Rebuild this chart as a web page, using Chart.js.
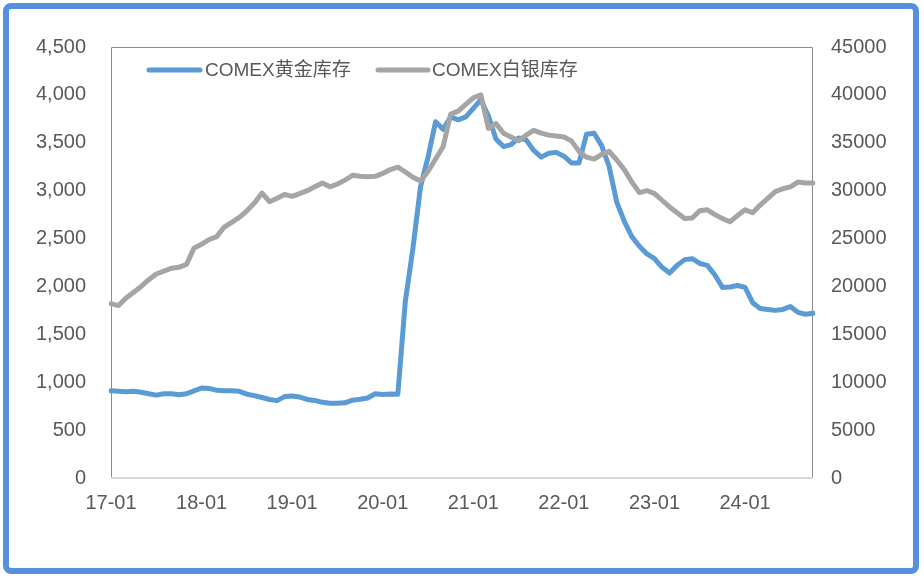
<!DOCTYPE html>
<html>
<head>
<meta charset="utf-8">
<script src="https://cdn.jsdelivr.net/npm/chart.js@4.4.1/dist/chart.umd.min.js"></script>
<style>
    html, body { margin: 0; padding: 0; background: #fff; }
    #wrap { position: relative; width: 924px; height: 583px; }
    #frame {
        position: absolute; left: 3px; top: 3px; width: 916px; height: 571px;
        box-sizing: border-box; border: 6px solid #5590da; border-radius: 8px;
        pointer-events: none;
    }
</style>
</head>
<body>
<div id="wrap">
    <canvas id="stockChart" width="924" height="583"></canvas>
    <div id="frame"></div>
</div>
<script>
// month labels 17-01 .. 24-10
const months = [];
for (let y = 17; y <= 24; y++) {
    for (let m = 1; m <= 12; m++) {
        if (y === 24 && m > 10) break;
        months.push(y + '-' + String(m).padStart(2, '0'));
    }
}

// COMEX gold stock (left axis)
const goldStock = [
    910, 905, 900, 905, 895, 880, 865, 880, 880, 870, 880, 910,
    940, 935, 915, 912, 912, 905, 875, 860, 840, 820, 808, 850,
    856, 845, 820, 810, 790, 780, 780, 785, 812, 822, 835, 880,
    872, 878, 875, 1850, 2400, 3040, 3350, 3720, 3640, 3770, 3740, 3770,
    3860, 3950, 3780, 3540, 3460, 3480, 3550, 3530, 3420, 3350, 3390, 3400,
    3360, 3290, 3290, 3590, 3600, 3470, 3250, 2880, 2680, 2520, 2420, 2340,
    2290, 2200, 2140, 2220, 2280, 2290, 2240, 2220, 2120, 1990, 1995, 2010,
    1990, 1830, 1770, 1760, 1750, 1760, 1790, 1730, 1710, 1720
];

// COMEX silver stock (right axis)
const silverStock = [
    18200, 18000, 18800, 19400, 20000, 20700, 21300, 21600, 21900, 22000, 22300, 24000,
    24400, 24900, 25200, 26200, 26700, 27200, 27900, 28700, 29750, 28850, 29200, 29600,
    29400, 29700, 30000, 30400, 30800, 30400, 30700, 31100, 31600, 31500, 31450, 31500,
    31800, 32200, 32450, 31950, 31400, 31000, 32000, 33300, 34600, 38000, 38300, 39000,
    39700, 40000, 36500, 37000, 36000, 35600, 35200, 35800, 36300, 36000, 35800, 35700,
    35600, 35200, 34100, 33500, 33300, 33800, 34100, 33200, 32200, 30900, 29800, 30000,
    29700, 29000, 28300, 27700, 27100, 27150, 27900, 28000, 27500, 27100, 26750, 27400,
    28000, 27700, 28500, 29200, 29900, 30200, 30400, 30900, 30800, 30800
];

const seriesNames = ['COMEX黄金库存', 'COMEX白银库存'];
const seriesColors = ['#5b9bd5', '#a5a5a5'];

const textColor = '#595959';
const fontFamily = "'Liberation Sans', 'Noto Sans CJK SC', sans-serif";

// plot frame: gray box around the chart area
const plotFrame = {
    id: 'plotFrame',
    beforeDatasetsDraw(chart) {
        const { ctx, chartArea: a } = chart;
        ctx.save();
        ctx.strokeStyle = '#8c8c8c';
        ctx.lineWidth = 1;
        ctx.beginPath();
        ctx.moveTo(a.left + 0.5, a.bottom);
        ctx.lineTo(a.left + 0.5, a.top + 0.5);
        ctx.lineTo(a.right - 0.5, a.top + 0.5);
        ctx.lineTo(a.right - 0.5, a.bottom);
        ctx.stroke();
        ctx.strokeStyle = '#d9d9d9';
        ctx.lineWidth = 2;
        ctx.beginPath();
        ctx.moveTo(a.left, a.bottom);
        ctx.lineTo(a.right, a.bottom);
        ctx.stroke();
        ctx.restore();
    }
};

// legend drawn inside the plot area
const innerLegend = {
    id: 'innerLegend',
    afterDraw(chart) {
        const ctx = chart.ctx;
        const items = [
            { x1: 149, x2: 200, tx: 205 },
            { x1: 378, x2: 428, tx: 432 }
        ];
        ctx.save();
        ctx.font = '19px ' + fontFamily;
        ctx.textBaseline = 'middle';
        ctx.lineCap = 'round';
        items.forEach((it, i) => {
            ctx.strokeStyle = seriesColors[i];
            ctx.lineWidth = 5;
            ctx.beginPath();
            ctx.moveTo(it.x1, 70);
            ctx.lineTo(it.x2, 70);
            ctx.stroke();
            ctx.fillStyle = textColor;
            ctx.fillText(seriesNames[i], it.tx, 71);
        });
        ctx.restore();
    }
};

const ctx = document.getElementById('stockChart').getContext('2d');

new Chart(ctx, {
    type: 'line',
    data: {
        labels: months,
        datasets: [
            {
                label: seriesNames[0],
                data: goldStock,
                yAxisID: 'y',
                borderColor: seriesColors[0],
                borderWidth: 5,
                pointRadius: 0,
                tension: 0,
                borderJoinStyle: 'round',
                borderCapStyle: 'round',
                order: 1
            },
            {
                label: seriesNames[1],
                data: silverStock,
                yAxisID: 'y1',
                borderColor: seriesColors[1],
                borderWidth: 5,
                pointRadius: 0,
                tension: 0,
                borderJoinStyle: 'round',
                borderCapStyle: 'round',
                order: 0
            }
        ]
    },
    options: {
        responsive: false,
        animation: false,
        devicePixelRatio: 1,
        layout: {
            padding: { top: 47, left: 0, right: 0, bottom: 0 }
        },
        scales: {
            x: {
                grid: { display: false, drawTicks: false },
                border: { display: false },
                ticks: {
                    autoSkip: false,
                    maxRotation: 0,
                    padding: 13,
                    color: textColor,
                    font: { size: 20, family: fontFamily },
                    callback: function(value) {
                        const label = this.getLabelForValue(value);
                        return label.endsWith('-01') ? label : '';
                    }
                },
                afterFit(scale) { scale.height = 105; }
            },
            y: {
                position: 'left',
                min: 0,
                max: 4500,
                grid: { display: false, drawTicks: false },
                border: { display: false },
                ticks: {
                    stepSize: 500,
                    padding: 25,
                    color: textColor,
                    font: { size: 20, family: fontFamily },
                    callback: value => value.toLocaleString('en-US')
                },
                afterFit(scale) { scale.width = 111; }
            },
            y1: {
                position: 'right',
                min: 0,
                max: 45000,
                grid: { display: false, drawTicks: false },
                border: { display: false },
                ticks: {
                    stepSize: 5000,
                    padding: 18,
                    color: textColor,
                    font: { size: 20, family: fontFamily },
                    callback: value => String(value)
                },
                afterFit(scale) { scale.width = 111; }
            }
        },
        plugins: {
            legend: { display: false },
            tooltip: { enabled: false }
        }
    },
    plugins: [plotFrame, innerLegend]
});
</script>
</body>
</html>
